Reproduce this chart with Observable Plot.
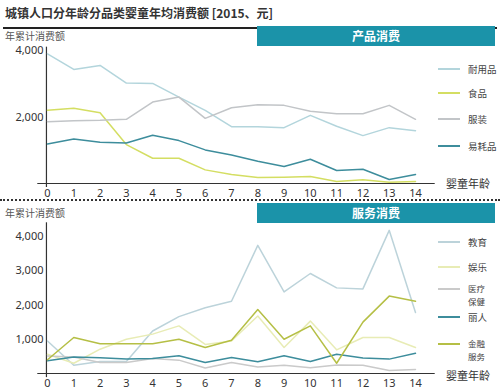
<!DOCTYPE html>
<html><head><meta charset="utf-8">
<script src="https://cdn.jsdelivr.net/npm/d3@7"></script>
<script src="https://cdn.jsdelivr.net/npm/@observablehq/plot@0.6"></script>
<style>
body{margin:0;background:#fff;font-family:"Noto Sans CJK SC","Noto Sans",sans-serif;}
#root{position:relative;width:500px;height:390px;overflow:hidden;}
.abs{position:absolute;white-space:nowrap;}
.title{left:5px;top:4px;font-size:12px;font-weight:bold;color:#333;}
.rule{left:3px;top:27px;width:494px;height:2px;background:#222;}
.ylab{font-size:10px;color:#555;line-height:11px;}
.banner{left:257px;width:238px;height:20px;background:#1b93a9;color:#fff;font-weight:bold;font-size:12px;text-align:center;line-height:20px;}
.dots{left:0;top:199px;width:500px;border-top:2px dotted #333;}
.leg{font-size:9.5px;color:#444;line-height:10px;}
.leg2{font-size:8.5px;color:#444;line-height:9px;}
.sw{position:absolute;width:22px;height:2px;}
.xl{font-size:11px;color:#333;line-height:13px;}
svg{position:absolute;left:0;}
</style></head>
<body><div id="root">
<div class="abs title">城镇人口分年龄分品类婴童年均消费额 [2015、元]</div>
<div class="abs rule"></div>
<div class="abs ylab" style="left:5px;top:30px;">年累计消费额</div>
<div class="abs banner" style="top:26px;">产品消费</div>
<div class="abs dots"></div>
<div class="abs ylab" style="left:5px;top:207px;">年累计消费额</div>
<div class="abs banner" style="top:203px;">服务消费</div>
<div class="abs xl" style="left:446px;top:177px;">婴童年龄</div>
<div class="abs xl" style="left:446px;top:369px;">婴童年龄</div>
</div>
<script>
const ages = [0,1,2,3,4,5,6,7,8,9,10,11,12,13,14];
// 产品消费
const durables   = [3900,3430,3550,3020,3010,2600,2200,1710,1710,1680,2050,1720,1440,1680,1590];
const food       = [2200,2260,2130,1170,760,760,410,270,180,190,210,60,110,40,60];
const clothing   = [1860,1890,1900,1930,2450,2600,1960,2280,2370,2350,2170,2100,2100,2350,1930];
const consumables= [1190,1340,1240,1220,1450,1290,1010,860,670,510,730,390,430,120,270];
// 服务消费
const education  = [950,240,350,350,1240,1660,1920,2110,3740,2380,2920,2500,2470,4180,1780];
const entertain  = [560,300,710,1000,1150,1390,850,950,1680,760,1530,690,1050,1050,760];
const health     = [510,480,320,320,440,390,160,320,190,240,170,250,240,90,120];
const beauty     = [370,480,460,420,440,520,320,470,340,520,350,560,450,420,590];
const finance    = [400,1050,870,870,870,1000,760,970,1870,1000,1390,300,1500,2260,2110];

const productNames = ["耐用品","食品","服装","易耗品"];
const productSeries = [durables, food, clothing, consumables];
const productColors = ["#b3d5dc","#d4de62","#c2c5c8","#3d8d9c"];
const serviceNames = ["教育","娱乐","医疗\n保健","丽人","金融\n服务"];
const serviceSeries = [education, entertain, health, beauty, finance];
const serviceColors = ["#bcd3da","#e8ecb5","#cacaca","#3d8d9c","#b5bf45"];
const topTicks = [2000,4000];
const bottomTicks = [1000,2000,3000,4000];

function rows(names, series){
  const out=[];
  names.forEach((n,i)=>series[i].forEach((v,j)=>out.push({name:n,age:ages[j],value:v})));
  return out;
}

function panel(names, series, colors, ticks, height, mt, mb, ytop){
  const data = rows(names, series);
  return Plot.plot({
    width:500, height, marginLeft:47, marginRight:85, marginTop:mt, marginBottom:mb,
    style:{fontFamily:"Noto Sans, sans-serif", fontSize:"11px", color:"#333", background:"transparent"},
    x:{domain:[0,14], ticks:ages, tickSize:0, tickPadding:6, label:null, tickFormat:d=>d},
    y:{domain:[0,4000], ticks, tickSize:0, tickPadding:4, label:null, tickFormat:d3.format(",")},
    color:{domain:names, range:colors},
    marks:[
      Plot.ruleY([0],{x1:-0.37, x2:14.75, stroke:"#333", strokeWidth:1.2, clip:false}),
      Plot.ruleX([-0.04],{y1:-120, y2:ytop, stroke:"#333", strokeWidth:1.2, clip:false}),
      Plot.line(data,{x:"age", y:"value", z:"name", stroke:"name", strokeWidth:1.5})
    ]
  });
}

const root = document.getElementById("root");
const top1 = panel(productNames, productSeries, productColors, topTicks, 160, 10, 17, 4100);
top1.style.top = "40px";
root.appendChild(top1);
const bot = panel(serviceNames, serviceSeries, serviceColors, bottomTicks, 190, 36, 17, 4400);
bot.style.top = "200px";
root.appendChild(bot);

// legends
function legend(names, colors, ys){
  names.forEach((n,i)=>{
    const sw=document.createElement("div");
    sw.className="sw"; sw.style.left="438px"; sw.style.top=(ys[i]-1)+"px"; sw.style.background=colors[i];
    root.appendChild(sw);
    const lines = n.split("\n");
    lines.forEach((line,k)=>{
      const t=document.createElement("div");
      t.className = lines.length>1 ? "abs leg2" : "abs leg";
      t.style.left="468px";
      t.style.top=(lines.length>1 ? ys[i]-5+k*13 : ys[i]-5)+"px";
      t.textContent=line;
      root.appendChild(t);
    });
  });
}
legend(productNames, productColors, [69,93,119,146]);
legend(serviceNames, serviceColors, [242,267,289,317,344]);
</script>
</body></html>
